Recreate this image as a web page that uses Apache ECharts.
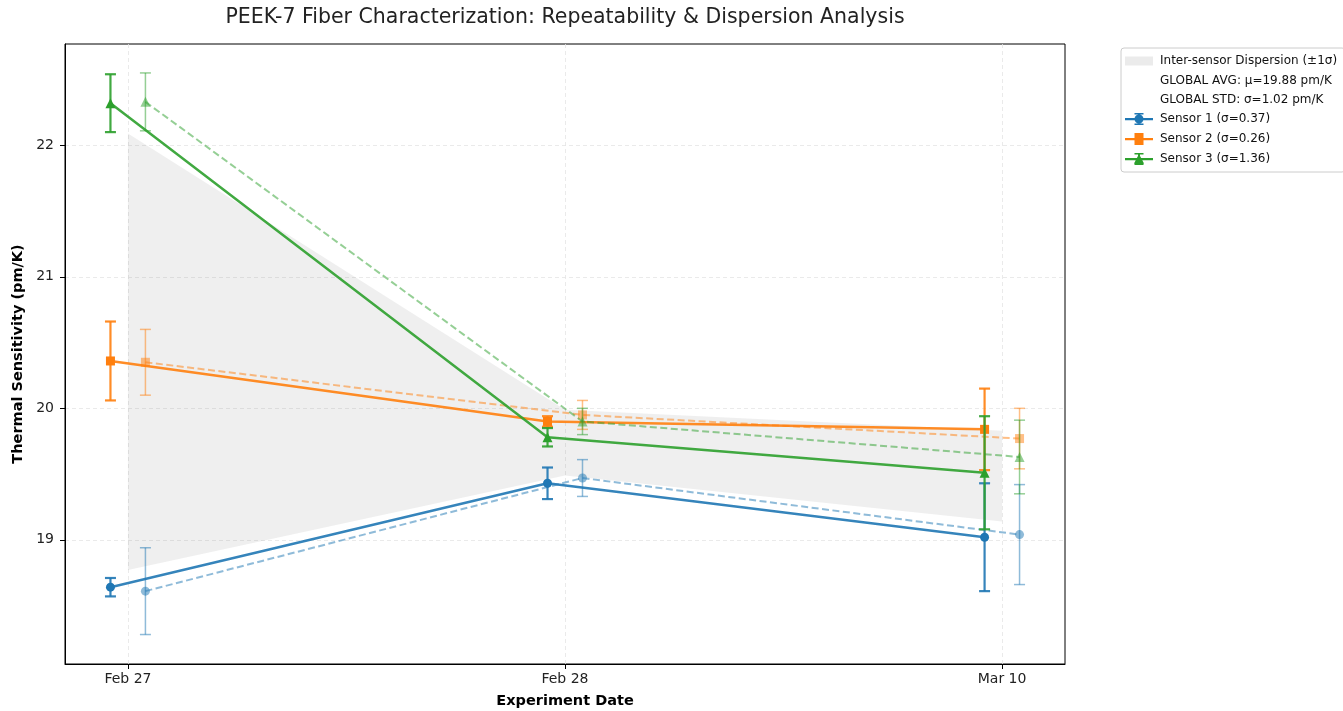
<!DOCTYPE html>
<html>
<head>
<meta charset="utf-8">
<script src="https://cdn.jsdelivr.net/npm/echarts@6/dist/echarts.min.js"></script>
<style>html,body{margin:0;padding:0;background:#fff}#c{width:1343px;height:711px}</style>
</head>
<body>
<div id="c"></div>
<script>
// ---------- data ----------
const dates = ['Feb 27', 'Feb 28', 'Mar 10'];
const xTicks = [0, 1, 2];
const yTicks = [19, 20, 21, 22];
const offsetA = -0.04;   // solid runs
const offsetB = 0.04;    // dashed runs

const s1A = [18.64, 19.43, 19.02];
const s1AErr = [0.07, 0.12, 0.41];
const s1B = [18.61, 19.47, 19.04];
const s1BErr = [0.33, 0.14, 0.38];

const s2A = [20.36, 19.90, 19.84];
const s2AErr = [0.30, 0.04, 0.31];
const s2B = [20.35, 19.95, 19.77];
const s2BErr = [0.25, 0.11, 0.23];

const s3A = [22.32, 19.78, 19.51];
const s3AErr = [0.22, 0.07, 0.43];
const s3B = [22.33, 19.90, 19.63];
const s3BErr = [0.22, 0.10, 0.28];

const bandUpper = [22.09, 19.99, 19.83];
const bandLower = [18.77, 19.49, 19.14];

const sensorNames = ['Sensor 1 (σ=0.37)', 'Sensor 2 (σ=0.26)', 'Sensor 3 (σ=1.36)'];
const bandName = 'Inter-sensor Dispersion (±1σ)';
const avgText = 'GLOBAL AVG: μ=19.88 pm/K';
const stdText = 'GLOBAL STD: σ=1.02 pm/K';

// ---------- styling ----------
const FONT = 'DejaVu Sans';
const colors = ['#1f77b4', '#ff7f0e', '#2ca02c'];
const symbols = ['circle', 'rect', 'triangle'];
const symbolSizes = [9, 9, 10];

const sliver = 'M0 0 H0.01 V0.01 H0 Z M27.99 13.99 H28 V14 H27.99 Z ';
const markerPaths = [
  'M18.5 7 A4.5 4.5 0 1 1 9.5 7 A4.5 4.5 0 1 1 18.5 7 Z',
  'M9.5 2.5 H18.5 V11.5 H9.5 Z',
  'M14 2 L19 11.5 L9 11.5 Z'
];
function sensorIcon(k) {
  return 'path://' + sliver +
    'M0 6 H28 V8.2 H0 Z M13 1 H15 V13 H13 Z M9.5 1 H18.5 V2.5 H9.5 Z M9.5 11.5 H18.5 V13 H9.5 Z ' +
    markerPaths[k];
}

function errSeries(vals, errs, off, color, lw, opacity, capHalf, z) {
  return {
    type: 'custom',
    silent: true,
    z: z,
    data: vals.map((v, i) => [xTicks[i] + off, v, errs[i]]),
    encode: { x: 0, y: 1 },
    renderItem: function (params, api) {
      const x = api.value(0), y = api.value(1), e = api.value(2);
      const t = api.coord([x, y + e]);
      const b = api.coord([x, y - e]);
      const st = { stroke: color, lineWidth: lw, opacity: opacity };
      return {
        type: 'group',
        children: [
          { type: 'line', shape: { x1: t[0], y1: t[1], x2: b[0], y2: b[1] }, style: st },
          { type: 'line', shape: { x1: t[0] - capHalf, y1: t[1], x2: t[0] + capHalf, y2: t[1] }, style: st },
          { type: 'line', shape: { x1: b[0] - capHalf, y1: b[1], x2: b[0] + capHalf, y2: b[1] }, style: st }
        ]
      };
    }
  };
}

function lineSeries(name, vals, off, k, dashed, z) {
  const op = dashed ? 0.5 : 0.9;
  return {
    type: 'line',
    name: name,
    z: z,
    silent: true,
    data: vals.map((v, i) => [xTicks[i] + off, v]),
    symbol: symbols[k],
    symbolSize: symbolSizes[k],
    showSymbol: true,
    itemStyle: { color: colors[k], opacity: dashed ? 0.5 : 1, borderWidth: 0 },
    lineStyle: { color: colors[k], width: dashed ? 2 : 2.5, opacity: op, type: dashed ? [7, 3.5] : 'solid' },
    emphasis: { disabled: true }
  };
}

const sensorData = [
  [s1A, s1AErr, s1B, s1BErr],
  [s2A, s2AErr, s2B, s2BErr],
  [s3A, s3AErr, s3B, s3BErr]
];

const series = [];
series.push({
  type: 'custom',
  name: bandName,
  silent: true,
  z: 1,
  data: xTicks.map((x, i) => [x, bandUpper[i], bandLower[i]]),
  encode: { x: 0, y: 1 },
  renderItem: function (params, api) {
    if (params.dataIndex !== 0) return null;
    const pts = [];
    for (let i = 0; i < xTicks.length; i++) pts.push(api.coord([xTicks[i], bandUpper[i]]));
    for (let i = xTicks.length - 1; i >= 0; i--) pts.push(api.coord([xTicks[i], bandLower[i]]));
    return { type: 'polygon', shape: { points: pts }, style: { fill: 'rgba(128,128,128,0.13)', stroke: null } };
  }
});
series.push({ type: 'line', name: avgText, data: [] });
series.push({ type: 'line', name: stdText, data: [] });

sensorData.forEach((d, k) => {
  const zb = 3 + k * 4;
  series.push(errSeries(d[2], d[3], offsetB, colors[k], 1.5, 0.5, 5.5, zb));
  series.push(lineSeries(sensorNames[k] + ' repeat', d[2], offsetB, k, true, zb + 1));
  series.push(errSeries(d[0], d[1], offsetA, colors[k], 2.2, 0.9, 5.5, zb + 2));
  series.push(lineSeries(sensorNames[k], d[0], offsetA, k, false, zb + 3));
});

const chart = echarts.init(document.getElementById('c'), null, { renderer: 'canvas' });
chart.setOption({
  animation: false,
  backgroundColor: '#fff',
  textStyle: { fontFamily: FONT },
  title: {
    text: 'PEEK-7 Fiber Characterization: Repeatability & Dispersion Analysis',
    left: 560, textAlign: 'center', top: 2,
    textStyle: { fontSize: 20.5, fontWeight: 'normal', color: '#222', fontFamily: FONT }
  },
  grid: {
    left: 65, top: 44, right: 278, bottom: 47,
    outerBoundsMode: 'none', containLabel: false,
    show: true, borderColor: '#000', borderWidth: 1, backgroundColor: 'transparent'
  },
  legend: {
    orient: 'vertical',
    left: 1121, top: 48,
    padding: [6, 8, 6, 4],
    itemWidth: 28, itemHeight: 14, itemGap: 6,
    borderColor: '#cccccc', borderWidth: 1, borderRadius: 3,
    backgroundColor: '#fff',
    selectedMode: false,
    textStyle: { fontSize: 12, color: '#111', fontFamily: FONT, padding: [0, 0, 0, 2] },
    data: [
      { name: bandName, icon: 'path://' + sliver + 'M0 2.5 H28 V11.5 H0 Z', itemStyle: { color: '#ebebeb' } },
      { name: avgText, icon: 'none' },
      { name: stdText, icon: 'none' },
      { name: sensorNames[0], icon: sensorIcon(0), itemStyle: { color: colors[0] } },
      { name: sensorNames[1], icon: sensorIcon(1), itemStyle: { color: colors[1] } },
      { name: sensorNames[2], icon: sensorIcon(2), itemStyle: { color: colors[2] } }
    ]
  },
  xAxis: {
    type: 'value', min: -0.144, max: 2.144,
    name: 'Experiment Date', nameLocation: 'middle', nameGap: 30,
    nameTextStyle: { fontWeight: 'bold', fontSize: 14.5, color: '#000', fontFamily: FONT },
    axisLine: { show: true, onZero: false, lineStyle: { color: '#000', width: 1 } },
    axisTick: { show: true, customValues: xTicks, length: 5, lineStyle: { color: '#000' } },
    axisLabel: { customValues: xTicks, formatter: v => dates[Math.round(v)], fontSize: 14, color: '#222', margin: 8, fontFamily: FONT },
    splitLine: { show: true, lineStyle: { color: '#e4e4e4', type: [4, 3], width: 0.8 } }
  },
  yAxis: {
    type: 'value', min: 18.056, max: 22.77,
    name: 'Thermal Sensitivity (pm/K)', nameLocation: 'middle', nameGap: 37,
    nameTextStyle: { fontWeight: 'bold', fontSize: 14.5, color: '#000', fontFamily: FONT },
    axisLine: { show: true, onZero: false, lineStyle: { color: '#000', width: 1 } },
    axisTick: { show: true, customValues: yTicks, length: 5, lineStyle: { color: '#000' } },
    axisLabel: { customValues: yTicks, fontSize: 14, color: '#222', margin: 11, fontFamily: FONT },
    splitLine: { show: true, lineStyle: { color: '#e4e4e4', type: [4, 3], width: 0.8 } }
  },
  series: series
});
</script>
</body>
</html>
